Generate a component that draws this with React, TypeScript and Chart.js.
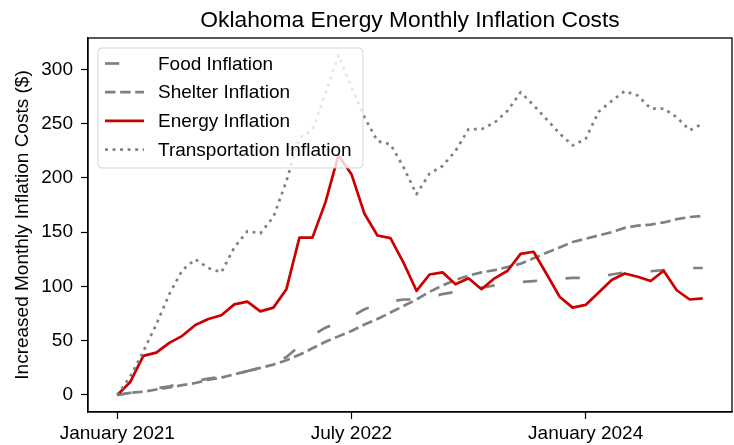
import React, { useEffect, useRef } from "react";
import { Chart, registerables } from "chart.js";
Chart.register(...registerables);

const months = [
  "2021-01","2021-02","2021-03","2021-04","2021-05","2021-06","2021-07","2021-08","2021-09","2021-10","2021-11","2021-12",
  "2022-01","2022-02","2022-03","2022-04","2022-05","2022-06","2022-07","2022-08","2022-09","2022-10","2022-11","2022-12",
  "2023-01","2023-02","2023-03","2023-04","2023-05","2023-06","2023-07","2023-08","2023-09","2023-10","2023-11","2023-12",
  "2024-01","2024-02","2024-03","2024-04","2024-05","2024-06","2024-07","2024-08","2024-09","2024-10",
];

const food = [0,2,4,6,8,11,13,15,17,19,22,25,29,35,45,55,62,67,72,79,83,86,88,88,90,93,95,97,99,101,103,104,105,106,107,108,108,109,111,113,113,114,115,116,117,117];
const shelter = [0,2,3,5,7,9,11,14,16,19,22,25,28,32,37,43,49,54,59,65,70,76,82,88,95,101,106,110,113,115,118,121,126,131,136,141,144,147,150,154,156,157,159,162,164,165];
const energy = [0,12,36,39,48,54.5,64.5,70,73.5,83.5,86,77,80.5,97.5,145,145,177.5,221,203.5,167,147,144.5,122,96,111,113,102,107.5,97.5,107.5,114.5,130,132,111.5,90.5,80.5,83,94.5,106,112,109,105,114.5,96.5,88,89];
const transportation = [0,17,40,65,93,115,125,117,113,136,151,149,164,197,237,244,278,313,284,256,234,231,210,185,204,211,225,245,245,251,262,279,267,254,241,230,236,261,271,280,276,264,264,256,244,250];

const seriesNames = ["Food Inflation", "Shelter Inflation", "Energy Inflation", "Transportation Inflation"];
const tickMonths = ["2021-01", "2022-07", "2024-01"];
const tickLabels = ["January 2021", "July 2022", "January 2024"];
const yTicks = [0, 50, 100, 150, 200, 250, 300];
const chartTitle = "Oklahoma Energy Monthly Inflation Costs";
const yTitle = "Increased Monthly Inflation Costs ($)";

const FONT = "'Liberation Sans', Arial, Helvetica, sans-serif";

const framePlugin = {
  id: "frame",
  afterDatasetsDraw(chart: any) {
    const { ctx, chartArea: a } = chart;
    ctx.save();
    ctx.strokeStyle = "#000";
    ctx.lineWidth = 1.3;
    ctx.setLineDash([]);
    ctx.strokeRect(a.left, a.top, a.right - a.left, a.bottom - a.top);
    ctx.restore();
  },
};

const titlePlugin = {
  id: "mtitle",
  afterDraw(chart: any) {
    const { ctx, chartArea: a } = chart;
    ctx.save();
    ctx.font = `22.8px ${FONT}`;
    ctx.fillStyle = "#000";
    ctx.textAlign = "center";
    ctx.textBaseline = "alphabetic";
    ctx.fillText(chartTitle, (a.left + a.right) / 2, 27);
    ctx.restore();
  },
};

const legendPlugin = {
  id: "mlegend",
  afterDraw(chart: any) {
    const { ctx, chartArea: a } = chart;
    const x = a.left + 10, y = a.top + 10, w = 265, h = 120, r = 4;
    ctx.save();
    ctx.beginPath();
    ctx.moveTo(x + r, y);
    ctx.lineTo(x + w - r, y);
    ctx.quadraticCurveTo(x + w, y, x + w, y + r);
    ctx.lineTo(x + w, y + h - r);
    ctx.quadraticCurveTo(x + w, y + h, x + w - r, y + h);
    ctx.lineTo(x + r, y + h);
    ctx.quadraticCurveTo(x, y + h, x, y + h - r);
    ctx.lineTo(x, y + r);
    ctx.quadraticCurveTo(x, y, x + r, y);
    ctx.closePath();
    ctx.fillStyle = "rgba(255,255,255,0.8)";
    ctx.fill();
    ctx.strokeStyle = "rgba(204,204,204,0.8)";
    ctx.lineWidth = 1;
    ctx.stroke();
    chart.data.datasets.forEach((ds: any, i: number) => {
      const cy = y + 15.5 + i * 28.7;
      ctx.beginPath();
      ctx.strokeStyle = ds.borderColor;
      ctx.lineWidth = ds.borderWidth;
      ctx.setLineDash(ds.borderDash || []);
      ctx.lineCap = "butt";
      ctx.moveTo(x + 7, cy);
      ctx.lineTo(x + 46, cy);
      ctx.stroke();
      ctx.setLineDash([]);
      ctx.fillStyle = "#000";
      ctx.font = `19px ${FONT}`;
      ctx.textAlign = "left";
      ctx.textBaseline = "middle";
      ctx.fillText(ds.label, x + 60, cy + 1);
    });
    ctx.restore();
  },
};

export default function App() {
  const ref = useRef<HTMLCanvasElement>(null);
  useEffect(() => {
    const toPts = (arr: number[]) => arr.map((v, i) => ({ x: i, y: v }));
    const common = { pointRadius: 0, borderCapStyle: "butt", borderJoinStyle: "round", tension: 0, fill: false };
    const chart = new Chart(ref.current as HTMLCanvasElement, {
      type: "line",
      data: {
        datasets: [
          { ...common, label: seriesNames[0], data: toPts(food), borderColor: "#808080", borderWidth: 2.7, borderDash: [14.25, 28.5], order: 3 },
          { ...common, label: seriesNames[1], data: toPts(shelter), borderColor: "#808080", borderWidth: 2.7, borderDash: [10.5, 4.6], order: 2 },
          { ...common, label: seriesNames[2], data: toPts(energy), borderColor: "#cc0000", borderWidth: 2.7, borderDash: [], order: 1 },
          { ...common, label: seriesNames[3], data: toPts(transportation), borderColor: "#808080", borderWidth: 2.7, borderDash: [2.85, 4.7], order: 0 },
        ] as any,
      },
      options: {
        animation: false,
        responsive: false,
        devicePixelRatio: 1,
        layout: { padding: { top: 38, right: 2, left: 0, bottom: 0 } },
        plugins: { legend: { display: false }, title: { display: false }, tooltip: { enabled: false } },
        scales: {
          x: {
            type: "linear",
            min: -2.25,
            max: 47.25,
            afterBuildTicks: (s: any) => {
              s.ticks = tickMonths.map((m) => ({ value: months.indexOf(m) }));
            },
            afterFit: (s: any) => {
              s.height = 33;
            },
            ticks: {
              callback: (_v: any, i: number) => tickLabels[i],
              font: { size: 19, family: FONT },
              color: "#000",
              padding: 3,
              maxRotation: 0,
              autoSkip: false,
            },
            grid: { drawOnChartArea: false, drawTicks: true, tickLength: 7, color: "#000", tickWidth: 1.2 },
            border: { display: true, color: "#000", width: 1.3 },
          },
          y: {
            type: "linear",
            min: -15.7,
            max: 329,
            afterBuildTicks: (s: any) => {
              s.ticks = yTicks.map((v) => ({ value: v }));
            },
            afterFit: (s: any) => {
              s.width = 88;
            },
            ticks: {
              callback: (v: any) => String(v),
              font: { size: 19, family: FONT },
              color: "#000",
              padding: 8,
              autoSkip: false,
            },
            grid: { drawOnChartArea: false, drawTicks: true, tickLength: 7, color: "#000", tickWidth: 1.2 },
            border: { display: true, color: "#000", width: 1.3 },
            title: {
              display: true,
              text: yTitle,
              font: { size: 19, family: FONT },
              color: "#000",
              padding: { top: 11, bottom: 0 },
            },
          },
        },
      } as any,
      plugins: [framePlugin, titlePlugin, legendPlugin],
    });
    return () => chart.destroy();
  }, []);
  return (
    <div style={{ position: "absolute", left: 0, top: 0, width: 734, height: 445, background: "#fff" }}>
      <canvas ref={ref} width={734} height={445} style={{ display: "block" }} />
    </div>
  );
}
